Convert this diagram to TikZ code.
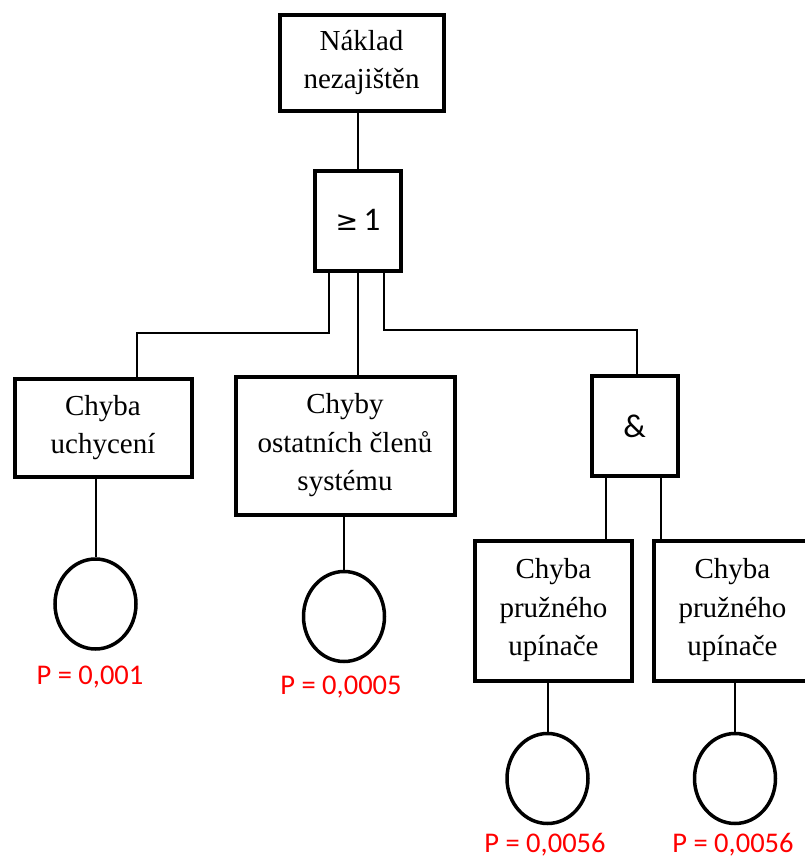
\documentclass[tikz,border=0pt]{standalone}
\usepackage{fontspec}
\setmainfont{Liberation Serif}
\newfontfamily\labelfont{Carlito}
\newfontfamily\symfont{DejaVu Sans}
\usetikzlibrary{calc,shapes.geometric}
\definecolor{probred}{RGB}{255,0,0}
\tikzset{
  eventbox/.style={draw, line width=4pt, inner sep=0pt, align=center,
    font=\fontsize{29}{38.5}\selectfont},
  gatebox/.style={draw, line width=4pt, inner sep=0pt,
    minimum width=86pt, minimum height=100pt,
    font=\labelfont\fontsize{33}{38}\selectfont},
  basic/.style={draw, line width=3.5pt, ellipse, inner sep=0pt,
    minimum width=81pt, minimum height=90pt},
  prob/.style={text=probred, font=\labelfont\fontsize{28.5}{34}\selectfont},
  link/.style={line width=2pt}
}
\begin{document}
\begin{tikzpicture}[x=1pt, y=-1pt]
  \useasboundingbox (0,0) rectangle (805,860);

  % events and gates
  \node[eventbox, minimum width=164pt, minimum height=96pt] (top) at (361.5,62.5)
    {Náklad\\nezajištěn};
  \node[gatebox] (g1) at (358,220.5)
    {\raisebox{2pt}{{\symfont\fontsize{27}{30}\selectfont ≥}\,1}};
  \node[eventbox, minimum width=177pt, minimum height=98pt] (b1) at (103,427.5)
    {Chyba\\uchycení};
  \node[eventbox, minimum width=219pt, minimum height=138pt] (b2) at (345,445.5)
    {Chyby\\ostatních členů\\systému};
  \node[gatebox] (g2) at (634.5,426) {\&};
  \node[eventbox, minimum width=157pt, minimum height=140pt] (b3) at (553.5,610.5)
    {Chyba\\pružného\\upínače};
  \node[eventbox, minimum width=157pt, minimum height=140pt] (b4) at (732.5,610.5)
    {Chyba\\pružného\\upínače};

  % basic events
  \node[basic] (e1) at (95.5,604) {};
  \node[basic] (e2) at (344,616.5) {};
  \node[basic] (e3) at (547.5,778.5) {};
  \node[basic] (e4) at (735,778.5) {};

  % probabilities
  \node[prob] (p1) at (90,677) {P = 0,001};
  \node[prob] (p2) at (341,687) {P = 0,0005};
  \node[prob] (p3) at (545,845) {P = 0,0056};
  \node[prob] (p4) at (733,845) {P = 0,0056};

  % helper points on the gate outputs
  \coordinate (g1l) at ([xshift=-29pt]g1.south);
  \coordinate (g1r) at ([xshift=26pt]g1.south);
  \coordinate (g2l) at ([xshift=-29pt]g2.south);
  \coordinate (g2r) at ([xshift=26pt]g2.south);

  % connectors
  \draw[link] (g1.north |- top.south) -- (g1.north);
  \draw[link] (g1l) -- ++(0,60) -| ([xshift=34pt]b1.north);
  \draw[link] (g1.south) -- (g1.south |- b2.north);
  \draw[link] (g1r) -- ++(0,57) -| ([xshift=2pt]g2.north);
  \draw[link] (g2l) -- (g2l |- b3.north);
  \draw[link] (g2r) -- ([yshift=-3pt]g2r |- b4.north);
  \draw[link] (e1.north |- b1.south) -- (e1.north);
  \draw[link] (e2.north |- b2.south) -- (e2.north);
  \draw[link] (e3.north |- b3.south) -- (e3.north);
  \draw[link] (e4.north |- b4.south) -- (e4.north);
\end{tikzpicture}
\end{document}
